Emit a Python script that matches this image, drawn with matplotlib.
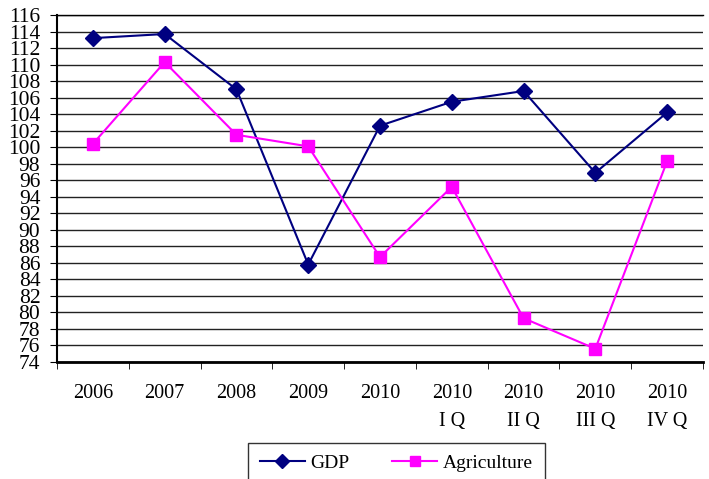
import matplotlib.pyplot as plt
import numpy as np

# chart data
categories = ['2006', '2007', '2008', '2009', '2010',
              '2010\nI Q', '2010\nII Q', '2010\nIII Q', '2010\nIV Q']
gdp = [113.2, 113.7, 107.0, 85.8, 102.6, 105.5, 106.8, 96.9, 104.2]
agriculture = [100.4, 110.3, 101.5, 100.1, 86.7, 95.2, 79.3, 75.6, 98.3]
y_ticks = list(range(74, 117, 2))

plt.rcParams['font.family'] = ['Liberation Serif', 'DejaVu Serif']

fig = plt.figure(figsize=(7.09, 4.79), dpi=100)
ax = fig.add_axes([57 / 709, 1 - 362 / 479, (703 - 57) / 709, (362 - 15) / 479])

x = np.arange(len(categories))
ax.plot(x, gdp, color='#000080', marker='D', markersize=8, lw=1.5, label='GDP')
ax.plot(x, agriculture, color='#FF00FF', marker='s', markersize=8, lw=1.5,
        label='Agriculture')

ax.set_xlim(-0.5, len(categories) - 0.5)
ax.set_ylim(74, 116)
ax.set_yticks(y_ticks)
ax.tick_params(axis='y', labelsize=15.5, length=5, pad=7, direction='out')
ax.yaxis.grid(True, color='#222222', lw=1.0)
ax.set_axisbelow(True)

ax.set_xticks(x)
ax.set_xticklabels(categories, fontsize=14.5, linespacing=1.6)
ax.tick_params(axis='x', which='major', length=0, pad=16)
ax.set_xticks(np.arange(-0.5, len(categories), 1.0), minor=True)
ax.tick_params(axis='x', which='minor', length=5, direction='out')

ax.spines['right'].set_visible(False)
ax.spines['left'].set_linewidth(1.5)
ax.spines['bottom'].set_linewidth(2)
ax.spines['top'].set_linewidth(1.0)

leg = fig.legend(loc='upper center', bbox_to_anchor=(396.5 / 709, 1 - 443 / 479),
                 ncol=2, fontsize=14, frameon=True, fancybox=False,
                 edgecolor='black', handlelength=2.3, columnspacing=2.2,
                 borderpad=0.6, borderaxespad=0, handletextpad=0.3,
                 markerscale=0.85)
leg.get_frame().set_linewidth(1.0)

fig.savefig('out.png', dpi=100)
